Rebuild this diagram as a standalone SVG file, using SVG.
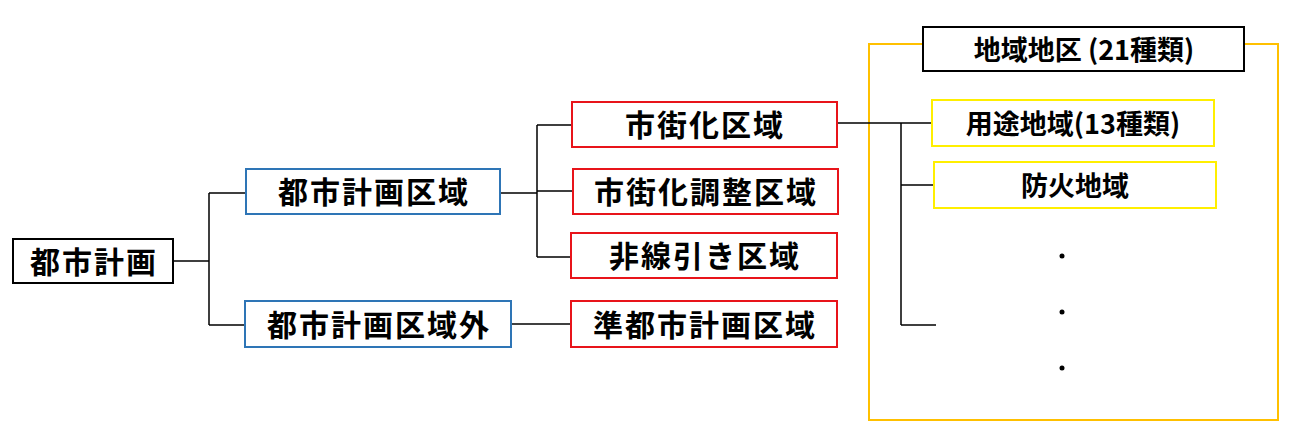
<svg xmlns="http://www.w3.org/2000/svg" width="1306" height="441" viewBox="0 0 1306 441">
<style>
text{font-family:"Noto Sans CJK JP","Noto Sans",sans-serif;font-weight:bold;font-size:30px;letter-spacing:2px;text-anchor:middle;dominant-baseline:central;fill:#000}
.s{font-size:27px;letter-spacing:0}
.k{fill:#fff;stroke:#000;stroke-width:2}
.b{fill:#fff;stroke:#2e75b6;stroke-width:2}
.r{fill:#fff;stroke:#e8141a;stroke-width:2}
.y{fill:#fff;stroke:#ffef00;stroke-width:2}
.c{fill:none;stroke:#000;stroke-width:1.5}
</style>
<rect width="1306" height="441" fill="#fff"/>
<g id="zone"><rect x="869" y="44" width="409" height="376" fill="#fff" stroke="#ffc000" stroke-width="2"/></g>
<g id="connectors" class="c">
<path class="c" d="M173 261H209M209 193V325M209 193H246M209 325H245"/>
<path class="c" d="M500 193H537M537 125V257M537 125H572M537 191H573M537 257H571"/>
<path class="c" d="M511 324H571"/>
<path class="c" d="M837 123H932M901 123V325M901 185H934M901 325H936"/>
</g>
<g id="n1"><rect class="k" x="13" y="239" width="160" height="44"/><text x="94" y="260">都市計画</text></g>
<g id="n2"><rect class="b" x="246" y="169" width="254" height="45"/><text x="374" y="190">都市計画区域</text></g>
<g id="n3"><rect class="b" x="245" y="301" width="266" height="46"/><text x="379" y="323">都市計画区域外</text></g>
<g id="n4"><rect class="r" x="572" y="102" width="265" height="45"/><text x="705" y="123">市街化区域</text></g>
<g id="n5"><rect class="r" x="573" y="169" width="265" height="45"/><text x="706" y="190">市街化調整区域</text></g>
<g id="n6"><rect class="r" x="571" y="233" width="266" height="45"/><text x="705" y="254">非線引き区域</text></g>
<g id="n7"><rect class="r" x="571" y="301" width="266" height="46"/><text x="705" y="323">準都市計画区域</text></g>
<g id="n8"><rect class="k" x="923" y="27" width="321" height="44"/><text class="s" x="1084" y="48">地域地区 (21種類)</text></g>
<g id="n9"><rect class="y" x="932" y="100" width="282" height="46"/><text class="s" x="1073" y="122">用途地域(13種類)</text></g>
<g id="n10"><rect class="y" x="934" y="162" width="282" height="46"/><text class="s" x="1075" y="184">防火地域</text></g>
<g id="dots"><circle cx="1062" cy="256" r="2.5"/><circle cx="1062" cy="312" r="2.5"/><circle cx="1062" cy="368" r="2.5"/></g>
</svg>
